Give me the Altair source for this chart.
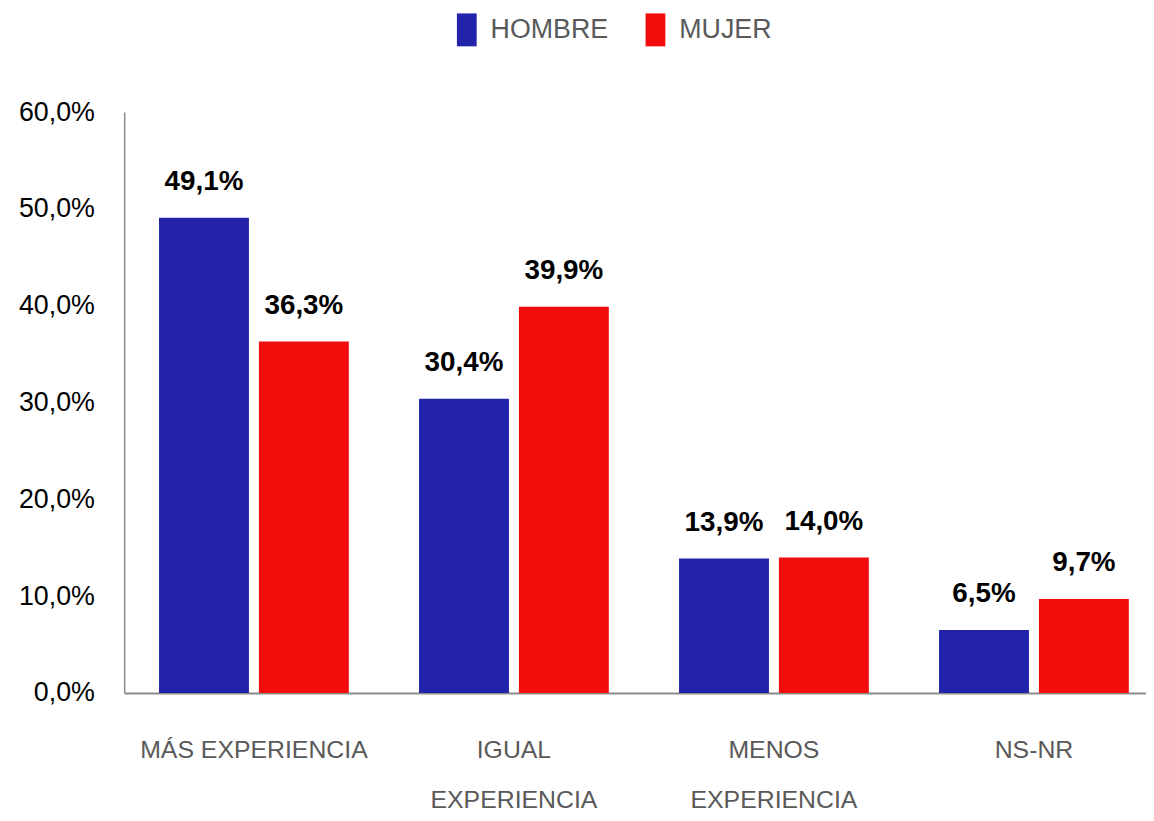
import altair as alt
import pandas as pd

categories = ["MÁS  EXPERIENCIA", "IGUAL EXPERIENCIA", "MENOS EXPERIENCIA", "NS-NR"]
series = ["HOMBRE", "MUJER"]
hombre = [0.491, 0.304, 0.139, 0.065]
mujer = [0.363, 0.399, 0.140, 0.097]
colors = ["#2323A9", "#F20C0C"]

rows = []
for i, c in enumerate(categories):
    rows.append({"cat": c, "sexo": "HOMBRE", "val": hombre[i]})
    rows.append({"cat": c, "sexo": "MUJER", "val": mujer[i]})
df = pd.DataFrame(rows)

font = "Liberation Sans"

x = alt.X("cat:N", sort=categories, title=None,
          scale=alt.Scale(paddingInner=0.27, paddingOuter=0.1, align=0.67),
          axis=alt.Axis(labelAngle=0, ticks=False, domainColor="#8c8c8c", domainWidth=2,
                        labelFont=font, labelFontSize=25, labelColor="#595959", labelLimit=0,
                        labelPadding=57, labelLineHeight=50, labelBaseline="middle",
                        labelExpr="datum.label == 'MÁS  EXPERIENCIA' ? datum.label : split(datum.label, ' ')"))
xo = alt.XOffset("sexo:N", sort=series, scale=alt.Scale(paddingInner=0.1))

base = alt.Chart(df).encode(x=x, xOffset=xo)

bars = base.mark_bar().encode(
    y=alt.Y("val:Q", title=None, scale=alt.Scale(domain=[0, 0.6]),
            axis=alt.Axis(values=[0, 0.1, 0.2, 0.3, 0.4, 0.5, 0.6], grid=False, ticks=False,
                          domainColor="#8c8c8c", domainWidth=1.5,
                          labelFont=font, labelFontSize=27, labelColor="#000000",
                          labelPadding=30,
                          labelExpr="replace(format(datum.value, '.1%'), '.', ',')")),
    color=alt.Color("sexo:N", sort=series, title=None,
                    scale=alt.Scale(domain=series, range=colors),
                    legend=alt.Legend(orient="none", legendX=328, legendY=-100, direction="horizontal",
                                      symbolType="M-0.6,-1H0.6V1H-0.6Z", symbolSize=1100,
                                      symbolStrokeWidth=0, labelFont=font, labelFontSize=27,
                                      labelColor="#595959", columnPadding=30, labelOffset=7)),
)

labels = base.transform_calculate(
    lbl="replace(format(datum.val, '.1%'), '.', ',')"
).mark_text(baseline="bottom", dy=-22, font=font, fontWeight="bold", fontSize=28, color="#000000").encode(
    y="val:Q", text="lbl:N"
)

chart = (bars + labels).properties(
    width=1029, height=585,
    background="white",
    autosize=alt.AutoSizeParams(type="none"),
    padding={"left": 117, "top": 102, "right": 0, "bottom": 118},
).configure_view(stroke=None)

chart.save("out.html", embed_options={"renderer": "svg", "actions": False})
